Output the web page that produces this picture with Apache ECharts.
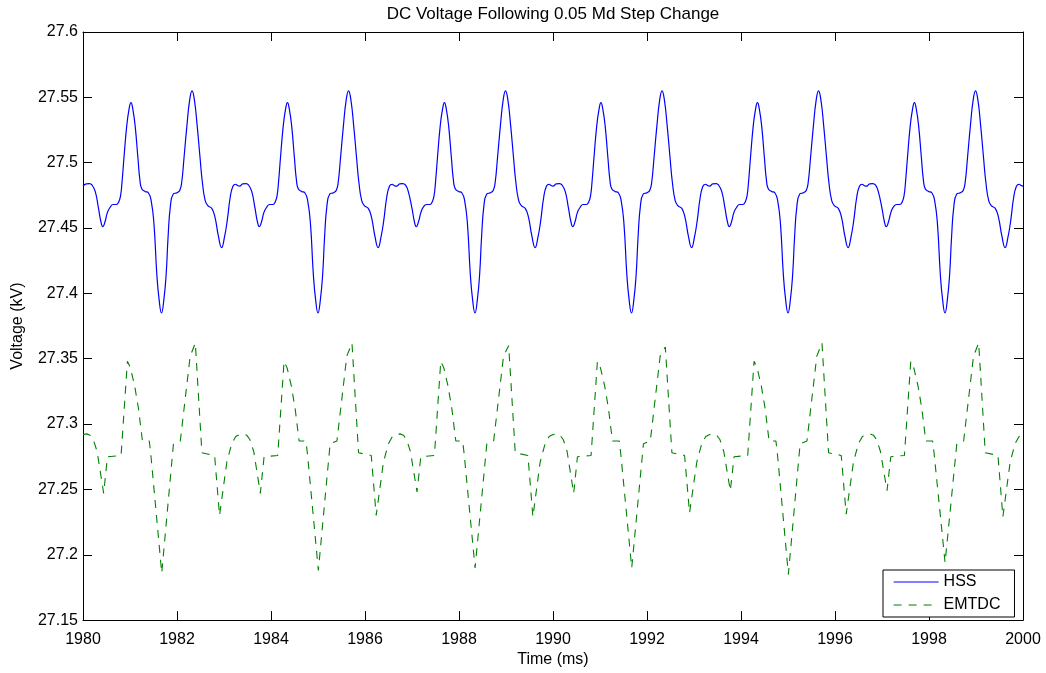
<!DOCTYPE html>
<html>
<head>
<meta charset="utf-8">
<title>DC Voltage Following 0.05 Md Step Change</title>
<script src="https://cdn.jsdelivr.net/npm/echarts@6/dist/echarts.min.js"></script>
<style>
  html, body { margin: 0; padding: 0; background: #fff; }
  #chart { width: 1046px; height: 673px; }
</style>
</head>
<body>
<div id="chart"></div>
<script>
// Axis ranges and tick spacing
const timeRange = [1980, 2000];
const timeStep = 2;
const voltRange = [27.15, 27.6];
const voltStep = 0.05;

const seriesNames = ['HSS', 'EMTDC'];

// HSS result: [time (ms), DC voltage (kV)]
const hssPoints = [
  [1980.00, 27.482], [1980.07, 27.4838], [1980.14, 27.484], [1980.19, 27.483], [1980.26, 27.478],
  [1980.33, 27.465], [1980.38, 27.455], [1980.42, 27.451], [1980.47, 27.455], [1980.52, 27.462],
  [1980.58, 27.466], [1980.64, 27.468], [1980.71, 27.468], [1980.76, 27.470], [1980.80, 27.475],
  [1980.83, 27.485], [1980.87, 27.503], [1980.93, 27.528], [1980.98, 27.541], [1981.02, 27.546],
  [1981.06, 27.541], [1981.11, 27.528], [1981.17, 27.503], [1981.21, 27.487], [1981.25, 27.480],
  [1981.32, 27.478], [1981.39, 27.477], [1981.45, 27.471], [1981.51, 27.453], [1981.57, 27.415],
  [1981.62, 27.395], [1981.67, 27.385], [1981.72, 27.395], [1981.77, 27.415], [1981.81, 27.443],
  [1981.86, 27.467], [1981.92, 27.476], [1982.00, 27.477], [1982.06, 27.479], [1982.10, 27.485],
  [1982.15, 27.504], [1982.21, 27.528], [1982.27, 27.548], [1982.32, 27.555], [1982.37, 27.548],
  [1982.43, 27.528], [1982.49, 27.504], [1982.54, 27.485], [1982.60, 27.471], [1982.66, 27.467],
  [1982.74, 27.465], [1982.81, 27.458], [1982.88, 27.444], [1982.95, 27.435], [1983.01, 27.443],
  [1983.07, 27.456], [1983.13, 27.473], [1983.19, 27.482], [1983.25, 27.4835], [1983.29, 27.4825],

  [1983.33, 27.482], [1983.40, 27.4838], [1983.47, 27.484], [1983.52, 27.483], [1983.59, 27.478],
  [1983.66, 27.465], [1983.71, 27.455], [1983.75, 27.451], [1983.80, 27.455], [1983.85, 27.462],
  [1983.91, 27.466], [1983.97, 27.468], [1984.04, 27.468], [1984.09, 27.470], [1984.13, 27.475],
  [1984.16, 27.485], [1984.20, 27.503], [1984.26, 27.528], [1984.31, 27.541], [1984.35, 27.546],
  [1984.39, 27.541], [1984.44, 27.528], [1984.50, 27.503], [1984.54, 27.487], [1984.58, 27.480],
  [1984.65, 27.478], [1984.72, 27.477], [1984.78, 27.471], [1984.84, 27.453], [1984.90, 27.415],
  [1984.95, 27.395], [1985.00, 27.385], [1985.05, 27.395], [1985.10, 27.415], [1985.14, 27.443],
  [1985.19, 27.467], [1985.25, 27.476], [1985.33, 27.477], [1985.39, 27.479], [1985.43, 27.485],
  [1985.48, 27.504], [1985.54, 27.528], [1985.60, 27.548], [1985.65, 27.555], [1985.70, 27.548],
  [1985.76, 27.528], [1985.82, 27.504], [1985.87, 27.485], [1985.93, 27.471], [1985.99, 27.467],
  [1986.07, 27.465], [1986.14, 27.458], [1986.21, 27.444], [1986.28, 27.435], [1986.34, 27.443],
  [1986.40, 27.456], [1986.46, 27.473], [1986.52, 27.482], [1986.58, 27.4835], [1986.62, 27.4825],

  [1986.67, 27.482], [1986.74, 27.4838], [1986.80, 27.484], [1986.86, 27.483], [1986.92, 27.478],
  [1987.00, 27.465], [1987.05, 27.455], [1987.09, 27.451], [1987.14, 27.455], [1987.19, 27.462],
  [1987.24, 27.466], [1987.31, 27.468], [1987.38, 27.468], [1987.43, 27.470], [1987.47, 27.475],
  [1987.50, 27.485], [1987.54, 27.503], [1987.60, 27.528], [1987.65, 27.541], [1987.69, 27.546],
  [1987.73, 27.541], [1987.78, 27.528], [1987.84, 27.503], [1987.88, 27.487], [1987.92, 27.480],
  [1987.99, 27.478], [1988.06, 27.477], [1988.12, 27.471], [1988.18, 27.453], [1988.24, 27.415],
  [1988.29, 27.395], [1988.34, 27.385], [1988.39, 27.395], [1988.44, 27.415], [1988.48, 27.443],
  [1988.53, 27.467], [1988.59, 27.476], [1988.67, 27.477], [1988.73, 27.479], [1988.77, 27.485],
  [1988.82, 27.504], [1988.88, 27.528], [1988.94, 27.548], [1988.99, 27.555], [1989.04, 27.548],
  [1989.10, 27.528], [1989.16, 27.504], [1989.21, 27.485], [1989.27, 27.471], [1989.33, 27.467],
  [1989.41, 27.465], [1989.48, 27.458], [1989.55, 27.444], [1989.62, 27.435], [1989.68, 27.443],
  [1989.74, 27.456], [1989.80, 27.473], [1989.86, 27.482], [1989.92, 27.4835], [1989.96, 27.4825],

  [1990.00, 27.482], [1990.07, 27.4838], [1990.14, 27.484], [1990.19, 27.483], [1990.26, 27.478],
  [1990.33, 27.465], [1990.38, 27.455], [1990.42, 27.451], [1990.47, 27.455], [1990.52, 27.462],
  [1990.58, 27.466], [1990.64, 27.468], [1990.71, 27.468], [1990.76, 27.470], [1990.80, 27.475],
  [1990.83, 27.485], [1990.87, 27.503], [1990.93, 27.528], [1990.98, 27.541], [1991.02, 27.546],
  [1991.06, 27.541], [1991.11, 27.528], [1991.17, 27.503], [1991.21, 27.487], [1991.25, 27.480],
  [1991.32, 27.478], [1991.39, 27.477], [1991.45, 27.471], [1991.51, 27.453], [1991.57, 27.415],
  [1991.62, 27.395], [1991.67, 27.385], [1991.72, 27.395], [1991.77, 27.415], [1991.81, 27.443],
  [1991.86, 27.467], [1991.92, 27.476], [1992.00, 27.477], [1992.06, 27.479], [1992.10, 27.485],
  [1992.15, 27.504], [1992.21, 27.528], [1992.27, 27.548], [1992.32, 27.555], [1992.37, 27.548],
  [1992.43, 27.528], [1992.49, 27.504], [1992.54, 27.485], [1992.60, 27.471], [1992.66, 27.467],
  [1992.74, 27.465], [1992.81, 27.458], [1992.88, 27.444], [1992.95, 27.435], [1993.01, 27.443],
  [1993.07, 27.456], [1993.13, 27.473], [1993.19, 27.482], [1993.25, 27.4835], [1993.29, 27.4825],

  [1993.33, 27.482], [1993.40, 27.4838], [1993.47, 27.484], [1993.52, 27.483], [1993.59, 27.478],
  [1993.66, 27.465], [1993.71, 27.455], [1993.75, 27.451], [1993.80, 27.455], [1993.85, 27.462],
  [1993.91, 27.466], [1993.97, 27.468], [1994.04, 27.468], [1994.09, 27.470], [1994.13, 27.475],
  [1994.16, 27.485], [1994.20, 27.503], [1994.26, 27.528], [1994.31, 27.541], [1994.35, 27.546],
  [1994.39, 27.541], [1994.44, 27.528], [1994.50, 27.503], [1994.54, 27.487], [1994.58, 27.480],
  [1994.65, 27.478], [1994.72, 27.477], [1994.78, 27.471], [1994.84, 27.453], [1994.90, 27.415],
  [1994.95, 27.395], [1995.00, 27.385], [1995.05, 27.395], [1995.10, 27.415], [1995.14, 27.443],
  [1995.19, 27.467], [1995.25, 27.476], [1995.33, 27.477], [1995.39, 27.479], [1995.43, 27.485],
  [1995.48, 27.504], [1995.54, 27.528], [1995.60, 27.548], [1995.65, 27.555], [1995.70, 27.548],
  [1995.76, 27.528], [1995.82, 27.504], [1995.87, 27.485], [1995.93, 27.471], [1995.99, 27.467],
  [1996.07, 27.465], [1996.14, 27.458], [1996.21, 27.444], [1996.28, 27.435], [1996.34, 27.443],
  [1996.40, 27.456], [1996.46, 27.473], [1996.52, 27.482], [1996.58, 27.4835], [1996.62, 27.4825],

  [1996.67, 27.482], [1996.74, 27.4838], [1996.80, 27.484], [1996.86, 27.483], [1996.92, 27.478],
  [1997.00, 27.465], [1997.05, 27.455], [1997.09, 27.451], [1997.14, 27.455], [1997.19, 27.462],
  [1997.24, 27.466], [1997.31, 27.468], [1997.38, 27.468], [1997.43, 27.470], [1997.47, 27.475],
  [1997.50, 27.485], [1997.54, 27.503], [1997.60, 27.528], [1997.65, 27.541], [1997.69, 27.546],
  [1997.73, 27.541], [1997.78, 27.528], [1997.84, 27.503], [1997.88, 27.487], [1997.92, 27.480],
  [1997.99, 27.478], [1998.06, 27.477], [1998.12, 27.471], [1998.18, 27.453], [1998.24, 27.415],
  [1998.29, 27.395], [1998.34, 27.385], [1998.39, 27.395], [1998.44, 27.415], [1998.48, 27.443],
  [1998.53, 27.467], [1998.59, 27.476], [1998.67, 27.477], [1998.73, 27.479], [1998.77, 27.485],
  [1998.82, 27.504], [1998.88, 27.528], [1998.94, 27.548], [1998.99, 27.555], [1999.04, 27.548],
  [1999.10, 27.528], [1999.16, 27.504], [1999.21, 27.485], [1999.27, 27.471], [1999.33, 27.467],
  [1999.41, 27.465], [1999.48, 27.458], [1999.55, 27.444], [1999.62, 27.435], [1999.68, 27.443],
  [1999.74, 27.456], [1999.80, 27.473], [1999.86, 27.482], [1999.92, 27.4835], [1999.96, 27.4825],
  [2000.00, 27.482]
];

// EMTDC result: [time (ms), DC voltage (kV)]
const emtdcPoints = [
  [1980.000, 27.2920], [1980.080, 27.2925], [1980.150, 27.2915], [1980.220, 27.2880], [1980.300, 27.2790],
  [1980.440, 27.2470], [1980.520, 27.2750], [1980.810, 27.2760], [1980.945, 27.3480], [1980.975, 27.3480],
  [1981.010, 27.3430], [1981.100, 27.3290], [1981.180, 27.3120], [1981.265, 27.2870], [1981.410, 27.2870],
  [1981.440, 27.2780], [1981.675, 27.1860], [1981.925, 27.2850], [1982.070, 27.2870], [1982.280, 27.3520],
  [1982.390, 27.3620], [1982.530, 27.2780], [1982.800, 27.2760], [1982.905, 27.2300], [1983.060, 27.2710],
  [1983.165, 27.2850], [1983.250, 27.2905],

  [1983.333, 27.2920], [1983.413, 27.2925], [1983.483, 27.2915], [1983.553, 27.2880], [1983.633, 27.2790],
  [1983.773, 27.2470], [1983.853, 27.2750], [1984.143, 27.2760], [1984.278, 27.3480], [1984.308, 27.3480],
  [1984.343, 27.3430], [1984.433, 27.3290], [1984.513, 27.3120], [1984.598, 27.2870], [1984.743, 27.2870],
  [1984.773, 27.2780], [1985.008, 27.1880], [1985.258, 27.2850], [1985.403, 27.2870], [1985.613, 27.3520],
  [1985.723, 27.3620], [1985.863, 27.2780], [1986.133, 27.2760], [1986.238, 27.2300], [1986.393, 27.2710],
  [1986.498, 27.2850], [1986.583, 27.2905],

  [1986.667, 27.2920], [1986.747, 27.2925], [1986.817, 27.2915], [1986.887, 27.2880], [1986.967, 27.2790],
  [1987.107, 27.2480], [1987.187, 27.2750], [1987.477, 27.2760], [1987.612, 27.3480], [1987.642, 27.3480],
  [1987.677, 27.3430], [1987.767, 27.3290], [1987.847, 27.3120], [1987.932, 27.2870], [1988.077, 27.2870],
  [1988.107, 27.2780], [1988.342, 27.1900], [1988.592, 27.2850], [1988.737, 27.2870], [1988.947, 27.3520],
  [1989.057, 27.3600], [1989.197, 27.2780], [1989.467, 27.2760], [1989.572, 27.2290], [1989.727, 27.2710],
  [1989.832, 27.2850], [1989.917, 27.2905],

  [1990.000, 27.2920], [1990.080, 27.2925], [1990.150, 27.2915], [1990.220, 27.2880], [1990.300, 27.2790],
  [1990.440, 27.2470], [1990.520, 27.2750], [1990.810, 27.2760], [1990.945, 27.3480], [1990.975, 27.3480],
  [1991.010, 27.3430], [1991.100, 27.3290], [1991.180, 27.3120], [1991.265, 27.2870], [1991.410, 27.2870],
  [1991.440, 27.2780], [1991.675, 27.1900], [1991.925, 27.2850], [1992.070, 27.2870], [1992.280, 27.3520],
  [1992.390, 27.3590], [1992.530, 27.2780], [1992.800, 27.2760], [1992.905, 27.2320], [1993.060, 27.2710],
  [1993.165, 27.2850], [1993.250, 27.2905],

  [1993.333, 27.2920], [1993.413, 27.2925], [1993.483, 27.2915], [1993.553, 27.2880], [1993.633, 27.2790],
  [1993.773, 27.2490], [1993.853, 27.2750], [1994.143, 27.2760], [1994.278, 27.3480], [1994.308, 27.3480],
  [1994.343, 27.3430], [1994.433, 27.3290], [1994.513, 27.3120], [1994.598, 27.2870], [1994.743, 27.2870],
  [1994.773, 27.2780], [1995.008, 27.1850], [1995.258, 27.2850], [1995.403, 27.2870], [1995.613, 27.3520],
  [1995.723, 27.3620], [1995.863, 27.2780], [1996.133, 27.2760], [1996.238, 27.2310], [1996.393, 27.2710],
  [1996.498, 27.2850], [1996.583, 27.2905],

  [1996.667, 27.2920], [1996.747, 27.2925], [1996.817, 27.2915], [1996.887, 27.2880], [1996.967, 27.2790],
  [1997.107, 27.2490], [1997.187, 27.2750], [1997.477, 27.2760], [1997.612, 27.3480], [1997.642, 27.3480],
  [1997.677, 27.3430], [1997.767, 27.3290], [1997.847, 27.3120], [1997.932, 27.2870], [1998.077, 27.2870],
  [1998.107, 27.2780], [1998.342, 27.1940], [1998.592, 27.2850], [1998.737, 27.2870], [1998.947, 27.3520],
  [1999.057, 27.3620], [1999.197, 27.2780], [1999.467, 27.2760], [1999.572, 27.2290], [1999.727, 27.2710],
  [1999.832, 27.2850], [1999.917, 27.2905], [2000.000, 27.2920]
];

const FONT = "'Liberation Sans', Arial, Helvetica, sans-serif";
const INK = '#000';

const chart = echarts.init(document.getElementById('chart'), null, { renderer: 'canvas' });

function boxAxis(extra) {
  return Object.assign({
    type: 'value',
    axisLine: { show: true, onZero: false, lineStyle: { color: INK, width: 1 } },
    axisTick: { show: true, inside: true, length: 9, lineStyle: { color: INK, width: 1 } },
    splitLine: { show: false },
    axisLabel: { show: false }
  }, extra);
}

const option = {
  animation: false,
  backgroundColor: '#fff',
  textStyle: { fontFamily: FONT },
  title: {
    text: 'DC Voltage Following 0.05 Md Step Change',
    left: 553,
    top: 6,
    padding: 0,
    textAlign: 'center',
    textStyle: { fontFamily: FONT, fontSize: 17, fontWeight: 'normal', color: INK }
  },
  grid: { left: 83, right: 23, top: 32, bottom: 47, containLabel: false },
  legend: {
    data: seriesNames,
    orient: 'vertical',
    left: 883,
    top: 570,
    padding: [4, 14, 4, 10],
    itemWidth: 45,
    itemHeight: 12,
    itemGap: 7,
    borderColor: INK,
    borderWidth: 1,
    backgroundColor: '#fff',
    borderRadius: 0,
    // line sample only: the marker drawn in the middle of each key is hidden
    itemStyle: { opacity: 0 },
    lineStyle: { width: 1.2 },
    textStyle: { fontFamily: FONT, fontSize: 16, color: INK }
  },
  xAxis: [
    boxAxis({
      position: 'bottom',
      min: timeRange[0], max: timeRange[1], interval: timeStep,
      axisLabel: {
        show: true, color: INK, fontFamily: FONT, fontSize: 16, margin: 11,
        formatter: (v) => String(v)
      },
      name: 'Time (ms)',
      nameLocation: 'middle',
      nameGap: 29,
      nameTextStyle: { fontFamily: FONT, fontSize: 16, color: INK }
    }),
    boxAxis({
      position: 'top',
      min: timeRange[0], max: timeRange[1], interval: timeStep
    })
  ],
  yAxis: [
    boxAxis({
      position: 'left',
      min: voltRange[0], max: voltRange[1], interval: voltStep,
      axisLabel: { show: true, color: INK, fontFamily: FONT, fontSize: 16, margin: 5 },
      name: 'Voltage (kV)',
      nameLocation: 'middle',
      nameRotate: 90,
      nameGap: 57,
      nameTextStyle: { fontFamily: FONT, fontSize: 16, color: INK }
    }),
    boxAxis({
      position: 'right',
      min: voltRange[0], max: voltRange[1], interval: voltStep
    })
  ],
  series: [
    {
      name: seriesNames[0],
      type: 'line',
      xAxisIndex: 0,
      yAxisIndex: 0,
      data: hssPoints,
      symbol: 'none',
      smooth: 0.5,
      lineStyle: { color: '#0000ff', width: 1.2 },
      itemStyle: { color: '#0000ff' },
      z: 3
    },
    {
      name: seriesNames[1],
      type: 'line',
      xAxisIndex: 0,
      yAxisIndex: 0,
      data: emtdcPoints,
      symbol: 'none',
      lineStyle: { color: '#008000', width: 1.1, type: [8, 7] },
      itemStyle: { color: '#008000' },
      z: 2
    }
  ]
};

chart.setOption(option);
</script>
</body>
</html>
